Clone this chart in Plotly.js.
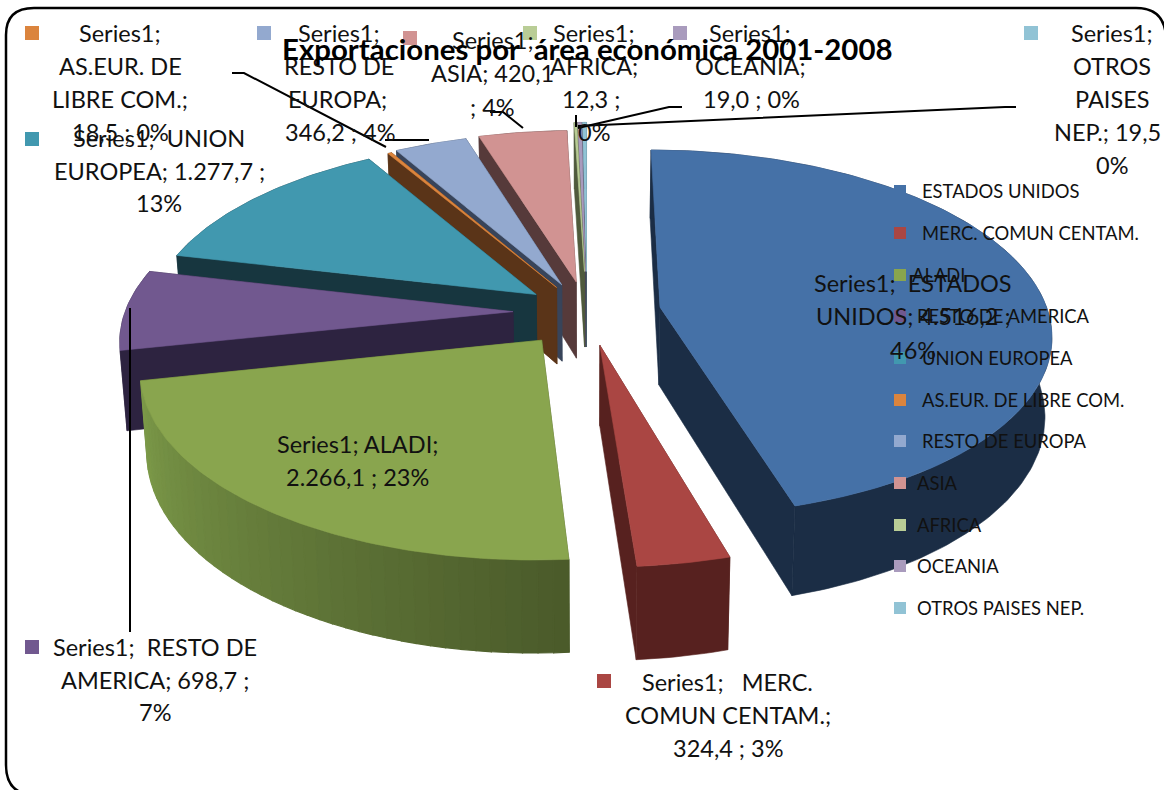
<!DOCTYPE html>
<html><head><meta charset="utf-8">
<script src="https://cdn.plot.ly/plotly-3.0.1.min.js"></script>
<style>html,body{margin:0;padding:0;background:#fff}#c{width:1164px;height:790px}</style>
</head><body><div id="c"></div>
<script>
const categories = ["ESTADOS UNIDOS","MERC. COMUN CENTAM.","ALADI","RESTO DE AMERICA","UNION EUROPEA","AS.EUR. DE LIBRE COM.","RESTO DE EUROPA","ASIA","AFRICA","OCEANIA","OTROS PAISES NEP."];
const values = [4516.2,324.4,2266.1,698.7,1277.7,18.5,346.2,420.1,12.3,19.0,19.5];
const chartTitle = "Exportaciones por  área económica 2001-2008";
const topColors = ["#4571A7","#AA4643","#89A54E","#71588F","#4198AF","#DB843D","#93A9CF","#D19392","#B9CD96","#A99BBD","#91C3D5"];
const wallColors = ["#1B2D45","#57211F","#4A5A2A","#2D2340","#17363F","#5A3418","#38445A","#563A3A","#4F5A3C","#4A4258","#3E5660"];
const wallLight = [null,null,"#7E9C4A",null,null,null,null,null,null,null,null];
const explode = [74,71,74,74,64,62,65,67,90,90,90];

// projection parameters
const CX=587, CY=312, R=388, K=0.465, P=0.14, DEPTH=78, SHRINK=0.985;

function project(X,Y,down){
  const s=1/(1+P*Y/R);
  let x=CX+X*s, y=CY-K*Y*s;
  if(down){ x=CX+(x-CX)*SHRINK; y+=DEPTH*s; }
  return [x,y];
}
const total=values.reduce((a,b)=>a+b,0);
const rad=d=>d*Math.PI/180;
let cum=0;
const slices=values.map((v,i)=>{
  const a0=cum/total*360; cum+=v; const a1=cum/total*360; const mid=(a0+a1)/2;
  return {i,a0,a1,mid,ox:explode[i]*Math.sin(rad(mid)),oy:explode[i]*Math.cos(rad(mid))};
});
function rim(s,a){return [s.ox+R*Math.sin(rad(a)),s.oy+R*Math.cos(rad(a))];}
const traces=[];
function poly(pts,color,w){
  traces.push({type:"scatter",mode:"lines",x:pts.map(p=>p[0]),y:pts.map(p=>p[1]),fill:"toself",fillcolor:color,
    line:{color:color,width:w===undefined?0.6:w},hoverinfo:"skip",showlegend:false});
}
function hex(c){return [1,3,5].map(k=>parseInt(c.substr(k,2),16));}
function mix(a,b,t){const A=hex(a),B=hex(b);return "rgb("+A.map((v,k)=>Math.round(v+(B[k]-v)*t)).join(",")+")";}
function wallQuad(w1,w2,color){
  const a=project(w1[0],w1[1],false),b=project(w2[0],w2[1],false),c=project(w2[0],w2[1],true),d=project(w1[0],w1[1],true);
  poly([a,b,c,d,a],color);
}
function rimWall(s,color){
  const m=Math.max(2,Math.ceil(s.a1-s.a0)),up=[],dn=[];
  for(let k=0;k<=m;k++){const r=rim(s,s.a0+(s.a1-s.a0)*k/m);up.push(project(r[0],r[1],false));dn.unshift(project(r[0],r[1],true));}
  poly(up.concat(dn,[up[0]]),color);
}
const order=slices.slice().sort((a,b)=>(b.oy+R*0.6*Math.cos(rad(b.mid)))-(a.oy+R*0.6*Math.cos(rad(a.mid))));
order.forEach(s=>{
  const c=[s.ox,s.oy], wc=wallColors[s.i], wl=wallLight[s.i];
  const walls=[];
  walls.push({y:(c[1]+rim(s,s.a0)[1])/2,f:()=>wallQuad(c,rim(s,s.a0),wc)});
  walls.push({y:(c[1]+rim(s,s.a1)[1])/2,f:()=>wallQuad(c,rim(s,s.a1),wc)});
  if(wl){
    const n=Math.ceil((s.a1-s.a0)/2);
    for(let k=0;k<n;k++){
      const a=s.a0+(s.a1-s.a0)*k/n,b=s.a0+(s.a1-s.a0)*(k+1)/n;
      const col=mix(wc,wl,(k+0.5)/n);
      walls.push({y:rim(s,(a+b)/2)[1],f:()=>{
        const w1=rim(s,a),w2=rim(s,b);
        const p=[project(w1[0],w1[1],false),project(w2[0],w2[1],false),project(w2[0],w2[1],true),project(w1[0],w1[1],true)];
        poly(p.concat([p[0]]),col,1.2);
      }});
    }
  } else {
    walls.push({y:rim(s,s.mid)[1],f:()=>rimWall(s,wc)});
  }
  walls.sort((p,q)=>q.y-p.y).forEach(w=>w.f());
  const pts=[project(c[0],c[1],false)];
  const m=Math.max(2,Math.ceil((s.a1-s.a0)));
  for(let k=0;k<=m;k++){const r=rim(s,s.a0+(s.a1-s.a0)*k/m);pts.push(project(r[0],r[1],false));}
  pts.push(pts[0]);
  poly(pts,topColors[s.i]);
});

// leader lines
const leaders=[
 [[232,73],[244,73],[386,147]],
 [[385,140],[429,140]],
 [[490,112],[503,112],[523,128]],
 [[576,115],[576,127]],
 [[682,107],[669,107],[578,128]],
 [[1016,107],[1005,107],[578,126]],
 [[130,632],[130,308]]
];
leaders.forEach(l=>traces.push({type:"scatter",mode:"lines",x:l.map(p=>p[0]),y:l.map(p=>p[1]),
  line:{color:"#000",width:2},hoverinfo:"skip",showlegend:false}));

const legendY=[191,233,275,316,358,400,441,483,525,566,608];
const legendX=[920,920,910,915,920,920,920,915,915,915,915];
const labelKeys=[[790,285],[604,681],[253,444],[32,647],[32,139],[32,33],[264,33],[410,38],[530,33],[680,33],[1031,33]];
traces.push({type:"scatter",mode:"markers",x:labelKeys.map(p=>p[0]),y:labelKeys.map(p=>p[1]),
  marker:{symbol:"square",size:14,color:topColors,line:{width:0}},hoverinfo:"skip",showlegend:false});
traces.push({type:"scatter",mode:"markers",x:legendY.map(()=>900),y:legendY,
  marker:{symbol:"square",size:12,color:topColors,line:{width:0}},hoverinfo:"skip",showlegend:false});

const FONT="Lato, Carlito, 'Open Sans', sans-serif";
const labelLines=[
 [["Series1;",120,33],["AS.EUR. DE",120,66],["LIBRE COM.;",120,99],["18,5 ; 0%",120,132]],
 [["Series1;  RESTO DE",155,647],["AMERICA; 698,7 ;",155,680],["7%",155,712]],
 [["Series1;  UNION",159,138],["EUROPEA; 1.277,7 ;",159,171],["13%",159,203]],
 [["Series1;",339,33],["RESTO DE",339,66],["EUROPA;",337,99],["346,2 ; 4%",340,132]],
 [["Series1;",493,40],["ASIA; 420,1",492,73],["; 4%",492,107]],
 [["Series1;",594,33],["AFRICA;",594,66],["12,3 ;",591,99],["0%",594,132]],
 [["Series1;",750,33],["OCEANIA;",750,66],["19,0 ; 0%",751,99]],
 [["Series1;",1112,33],["OTROS",1112,66],["PAISES",1112,99],["NEP.; 19,5",1107,132],["0%",1112,165]],
 [["Series1;  ESTADOS",913,283],["UNIDOS; 4.516,2 ;",913,316],["46%",913,350]],
 [["Series1; ALADI;",357,444],["2.266,1 ; 23%",357,477]],
 [["Series1;   MERC.",727,682],["COMUN CENTAM.;",728,715],["324,4 ; 3%",728,748]]
];
const annotations=[];
labelLines.flat().forEach(t=>annotations.push({xref:"x",yref:"y",x:t[1],y:t[2],text:t[0],showarrow:false,xanchor:"center",yanchor:"middle",
  font:{family:FONT,size:23.5,color:"#111"}}));
categories.forEach((c,i)=>annotations.push({xref:"x",yref:"y",x:legendX[i],y:legendY[i],text:c,showarrow:false,xanchor:"left",yanchor:"middle",
  font:{family:FONT,size:18.4,color:"#111"}}));
annotations.push({xref:"x",yref:"y",x:587,y:48,text:"<b>"+chartTitle+"</b>",showarrow:false,xanchor:"center",yanchor:"middle",
  font:{family:FONT,size:29.4,color:"#000"}});

const layout={width:1164,height:790,margin:{l:0,r:0,t:0,b:0},paper_bgcolor:"#fff",plot_bgcolor:"#fff",showlegend:false,
  xaxis:{range:[0,1164],visible:false,fixedrange:true},
  yaxis:{range:[790,0],visible:false,fixedrange:true},
  shapes:[{type:"path",xref:"x",yref:"y",path:"M 6 35 Q 6 8 34 8 L 1136 8 Q 1166 8 1166 40 L 1166 795 L 36 795 Q 6 795 6 765 Z",
    line:{color:"#000",width:2.5},layer:"above"}],
  annotations};
Plotly.newPlot("c",traces,layout,{displayModeBar:false,staticPlot:true});
</script></body></html>
